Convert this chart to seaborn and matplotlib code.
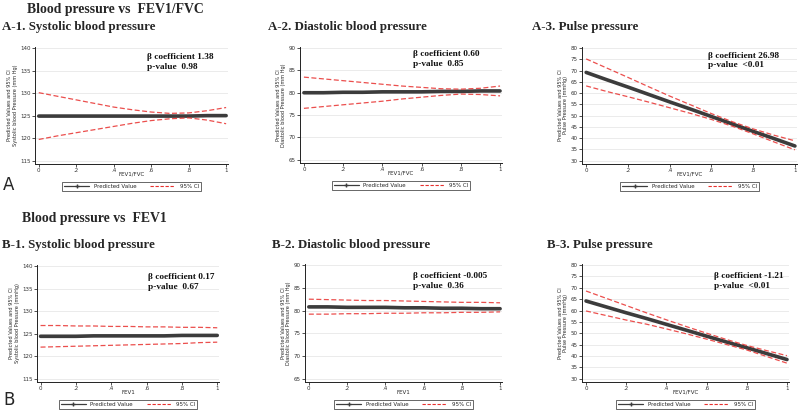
import numpy as np
import pandas as pd
import seaborn as sns
import matplotlib.pyplot as plt
from matplotlib.lines import Line2D

# x grid (FEV1/FVC or FEV1, 0..1)
x_vals = [0.0, 0.1, 0.2, 0.3, 0.4, 0.5, 0.6, 0.7, 0.8, 0.9, 1.0]

# A-1 systolic vs FEV1/FVC
a1_pred = [124.9, 124.9, 124.9, 124.9, 124.9, 124.9, 124.9, 124.9, 124.9, 125.0, 125.0]
a1_upper = [130.1, 129.3, 128.5, 127.7, 126.9, 126.3, 125.8, 125.5, 125.6, 126.1, 126.8]
a1_lower = [119.7, 120.5, 121.2, 121.9, 122.6, 123.3, 123.9, 124.3, 124.5, 124.0, 123.2]

# A-2 diastolic vs FEV1/FVC
a2_pred = [80.0, 80.0, 80.1, 80.1, 80.2, 80.2, 80.2, 80.3, 80.3, 80.4, 80.4]
a2_upper = [83.5, 83.1, 82.7, 82.3, 81.9, 81.5, 81.2, 80.9, 80.8, 81.0, 81.5]
a2_lower = [76.5, 76.9, 77.3, 77.7, 78.1, 78.6, 79.0, 79.4, 79.7, 79.6, 79.3]

# A-3 pulse pressure vs FEV1/FVC
a3_pred = [69.2, 65.9, 62.7, 59.4, 56.1, 52.9, 49.6, 46.3, 43.0, 39.8, 36.5]
a3_upper = [75.2, 71.1, 67.0, 62.8, 58.7, 54.8, 50.9, 47.3, 44.1, 41.3, 38.8]
a3_lower = [63.2, 60.7, 58.4, 56.0, 53.5, 51.0, 48.3, 45.3, 41.9, 38.3, 34.8]

# B-1 systolic vs FEV1
b1_pred = [124.4, 124.4, 124.4, 124.5, 124.5, 124.5, 124.5, 124.5, 124.6, 124.6, 124.6]
b1_upper = [126.8, 126.8, 126.7, 126.7, 126.6, 126.6, 126.5, 126.5, 126.4, 126.4, 126.3]
b1_lower = [122.0, 122.1, 122.2, 122.3, 122.4, 122.5, 122.6, 122.7, 122.8, 123.0, 123.1]

# B-2 diastolic vs FEV1
b2_pred = [80.8, 80.8, 80.7, 80.7, 80.7, 80.6, 80.6, 80.5, 80.5, 80.4, 80.4]
b2_upper = [82.5, 82.4, 82.3, 82.2, 82.2, 82.1, 82.0, 81.9, 81.8, 81.8, 81.7]
b2_lower = [79.2, 79.2, 79.3, 79.3, 79.4, 79.4, 79.5, 79.5, 79.6, 79.6, 79.7]

# B-3 pulse pressure vs FEV1
b3_pred = [64.2, 61.6, 59.0, 56.5, 53.9, 51.3, 48.7, 46.1, 43.6, 41.0, 38.4]
b3_upper = [68.6, 65.4, 62.2, 59.0, 55.9, 52.9, 50.0, 47.2, 44.6, 42.3, 40.1]
b3_lower = [59.8, 57.8, 55.8, 54.0, 51.9, 49.7, 47.4, 45.0, 42.6, 39.7, 36.8]

x_ticks = [0, 0.2, 0.4, 0.6, 0.8, 1.0]
x_ticklabels = ["0", ".2", ".4", ".6", ".8", "1"]
sbp_ticks = [115, 120, 125, 130, 135, 140]
dbp_ticks = [65, 70, 75, 80, 85, 90]
pp_ticks = [30, 35, 40, 45, 50, 55, 60, 65, 70, 75, 80]

panel_titles = ["A-1. Systolic blood pressure", "A-2. Diastolic blood pressure", "A-3. Pulse pressure",
                "B-1. Systolic blood pressure", "B-2. Diastolic blood pressure", "B-3. Pulse pressure"]
y_labels = ["Systolic blood Pressure (mm Hg)", "Diastolic blood Pressure (mm Hg)", "Pulse Pressure (mmHg)",
            "Systolic blood Pressure (mmHg)", "Diastolic blood Pressure (mm Hg)", "Pulse Pressure (mmHg)"]
x_labels = ["FEV1/FVC", "FEV1/FVC", "FEV1/FVC", "FEV1", "FEV1", "FEV1/FVC"]
betas = ["1.38", "0.60", "26.98", "0.17", "-0.005", "-1.21"]
pvals = ["0.98", "0.85", "<0.01", "0.67", "0.36", "<0.01"]

series = [(a1_pred, a1_upper, a1_lower), (a2_pred, a2_upper, a2_lower), (a3_pred, a3_upper, a3_lower),
          (b1_pred, b1_upper, b1_lower), (b2_pred, b2_upper, b2_lower), (b3_pred, b3_upper, b3_lower)]
y_ticks = [sbp_ticks, dbp_ticks, pp_ticks, sbp_ticks, dbp_ticks, pp_ticks]

# layout in pixels: left spine, right, top, bottom; text anchor in axes fraction
W, H = 800, 411
boxes = [(35, 228, 47, 164), (300, 502, 47, 163), (582, 797, 47, 164),
         (37, 219, 265, 382), (305, 502, 264, 382), (582, 789, 264, 382)]
text_pos = [(0.58, 0.95), (0.56, 0.97), (0.585, 0.96), (0.61, 0.93), (0.55, 0.93), (0.64, 0.93)]
title_pos = [(2, 27), (268, 27), (532, 27), (2, 245), (272, 245), (547, 245)]

PRED_COLOR = "#3c3c3c"
CI_COLOR = "#e8302e"
GRID_COLOR = "#e8e8e8"
SERIF = "Liberation Serif"

sns.set_style("white")
plt.rcParams["font.family"] = ["DejaVu Sans"]

fig = plt.figure(figsize=(W / 100, H / 100), dpi=100)

for i in range(6):
    l, r, t, b = boxes[i]
    ax = fig.add_axes([l / W, 1 - b / H, (r - l) / W, (b - t) / H])
    pred, up, lo = series[i]
    df = pd.DataFrame({"x": x_vals, "pred": pred, "upper": up, "lower": lo})

    yt = y_ticks[i]
    for v in yt:
        ax.axhline(v, color=GRID_COLOR, lw=0.6, zorder=0)

    sns.lineplot(data=df, x="x", y="pred", ax=ax, color=PRED_COLOR, lw=2.6, zorder=2)
    sns.lineplot(data=df, x="x", y="upper", ax=ax, color=CI_COLOR, lw=0.9,
                 linestyle=(0, (4, 2)), zorder=3, alpha=0.85)
    sns.lineplot(data=df, x="x", y="lower", ax=ax, color=CI_COLOR, lw=0.9,
                 linestyle=(0, (4, 2)), zorder=3, alpha=0.85)

    rng = yt[-1] - yt[0]
    ax.set_ylim(yt[0] - 0.03 * rng, yt[-1] + 0.01 * rng)
    ax.set_xlim(-0.02, 1.01)
    ax.set_xticks(x_ticks)
    ax.set_xticklabels(x_ticklabels)
    ax.set_yticks(yt)
    ax.set_yticklabels([str(v) for v in yt])
    ax.tick_params(axis="both", labelsize=4, length=2, width=0.6, pad=1, direction="out",
                   left=True, bottom=True, colors="#333333")
    for s in ["top", "right"]:
        ax.spines[s].set_visible(False)
    for s in ["left", "bottom"]:
        ax.spines[s].set_color("#222222")
        ax.spines[s].set_linewidth(0.7)

    ax.set_xlabel(x_labels[i], fontsize=4, labelpad=-1)
    ax.set_ylabel("Predicted Values and 95% CI\n" + y_labels[i], fontsize=3.6, labelpad=2,
                  linespacing=1.1)

    tx, ty = text_pos[i]
    ax.text(tx, ty, "\u03b2 coefficient " + betas[i] + "\np-value  " + pvals[i],
            transform=ax.transAxes, ha="left", va="top", fontsize=6.7, fontweight="bold",
            family=SERIF, linespacing=1.3, color="#111111")

    handles = [Line2D([0], [0], color=PRED_COLOR, lw=0.9, marker="+", markersize=2.5),
               Line2D([0], [0], color=CI_COLOR, lw=0.8, linestyle=(0, (3, 1.5)))]
    leg = ax.legend(handles, ["Predicted Value", "95% CI"], loc="upper center",
                    bbox_to_anchor=(0.5, -0.13), ncol=2, fontsize=4, frameon=True,
                    fancybox=False, edgecolor="#222222", handlelength=4.5, columnspacing=2.5,
                    borderpad=0.35, handletextpad=0.8)
    leg.get_frame().set_linewidth(0.6)

    px, py = title_pos[i]
    fig.text(px / W, 1 - py / H, panel_titles[i], ha="left", va="center", fontsize=9.3,
             fontweight="bold", family=SERIF)

fig.text(27 / W, 1 - 9 / H, "Blood pressure vs  FEV1/FVC", ha="left", va="center",
         fontsize=9.9, fontweight="bold", family=SERIF)
fig.text(22 / W, 1 - 218 / H, "Blood pressure vs  FEV1", ha="left", va="center",
         fontsize=9.9, fontweight="bold", family=SERIF)
fig.text(3 / W, 1 - 185 / H, "A", ha="left", va="center", fontsize=12)
fig.text(3 / W, 1 - 400 / H, "B", ha="left", va="center", fontsize=12)

fig.savefig("out.png", dpi=100)
